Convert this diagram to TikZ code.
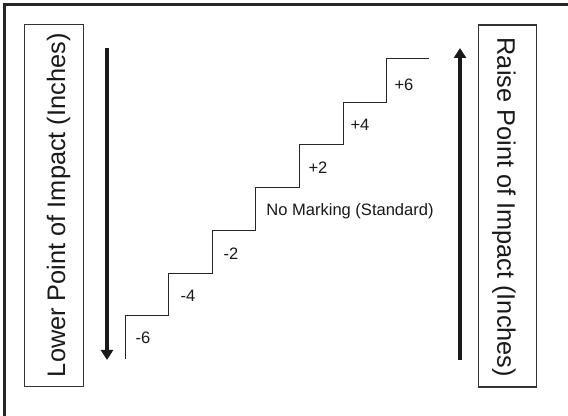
\documentclass[tikz,border=0pt]{standalone}
\usepackage{fontspec}
\setmainfont{Liberation Sans}
\usetikzlibrary{arrows.meta}
\tikzset{
  sidebox/.style={draw=black!80,line width=0.8pt,minimum height=43.9pt,minimum width=271.5pt,inner sep=0pt,font=\fontsize{19}{23}\selectfont,anchor=center,text=black!90},
  steplabel/.style={font=\fontsize{12.4}{15}\selectfont,inner sep=0pt,text=black!90},
  bigarrow/.style={line width=2.6pt,color=black!90,-{Triangle[length=7.5pt,width=9pt]}},
  stairline/.style={line width=0.75pt,color=black!85},
  framebar/.style={line width=2pt,color=black!85}
}
\begin{document}
\begin{tikzpicture}[x=0.75pt,y=-0.75pt]
\useasboundingbox (0,0) rectangle (568,416);
\fill[white] (0,0) rectangle (568,416);
\coordinate (fa) at (4.5,416);
\coordinate (fb) at (4.5,4.5);
\coordinate (fc) at (568,4.5);
\draw[framebar] (fa) -- (fb) -- (fc);
\node[sidebox,rotate=90] (lbox) at (53.8,205.3) {\raisebox{-8.4pt}[0pt][0pt]{Lower Point of Impact (Inches)}};
\node[sidebox,rotate=-90] (rbox) at (507.3,206) {\raisebox{-7.5pt}[0pt][0pt]{\hspace*{2pt}Raise Point of Impact (Inches)}};
\coordinate (la) at (107,48);
\coordinate (lb) at (107,360);
\coordinate (ra) at (460,360);
\coordinate (rb) at (460,48);
\draw[bigarrow] (la) -- (lb);
\draw[bigarrow] (ra) -- (rb);
\coordinate (s0) at (125.5,359);
\coordinate (s1) at (125.5,316);
\coordinate (s2) at (168.5,316);
\coordinate (s3) at (168.5,273.5);
\coordinate (s4) at (212,273.5);
\coordinate (s5) at (212,231);
\coordinate (s6) at (255.5,231);
\coordinate (s7) at (255.5,188);
\coordinate (s8) at (299.5,188);
\coordinate (s9) at (299.5,145);
\coordinate (s10) at (343,145);
\coordinate (s11) at (343,102.5);
\coordinate (s12) at (386,102.5);
\coordinate (s13) at (386,59);
\coordinate (s14) at (429,59);
\draw[stairline] (s0)--(s1)--(s2)--(s3)--(s4)--(s5)--(s6)--(s7)--(s8)--(s9)--(s10)--(s11)--(s12)--(s13)--(s14);
\node[steplabel] (m6) at (143,338) {-6};
\node[steplabel] (m4) at (188,296) {-4};
\node[steplabel] (m2) at (231,254) {-2};
\node[steplabel] (std) at (350,211) {No Marking (Standard)};
\node[steplabel] (p2) at (318,168) {+2};
\node[steplabel] (p4) at (360,124.5) {+4};
\node[steplabel] (p6) at (404,84.5) {+6};
\end{tikzpicture}
\end{document}
